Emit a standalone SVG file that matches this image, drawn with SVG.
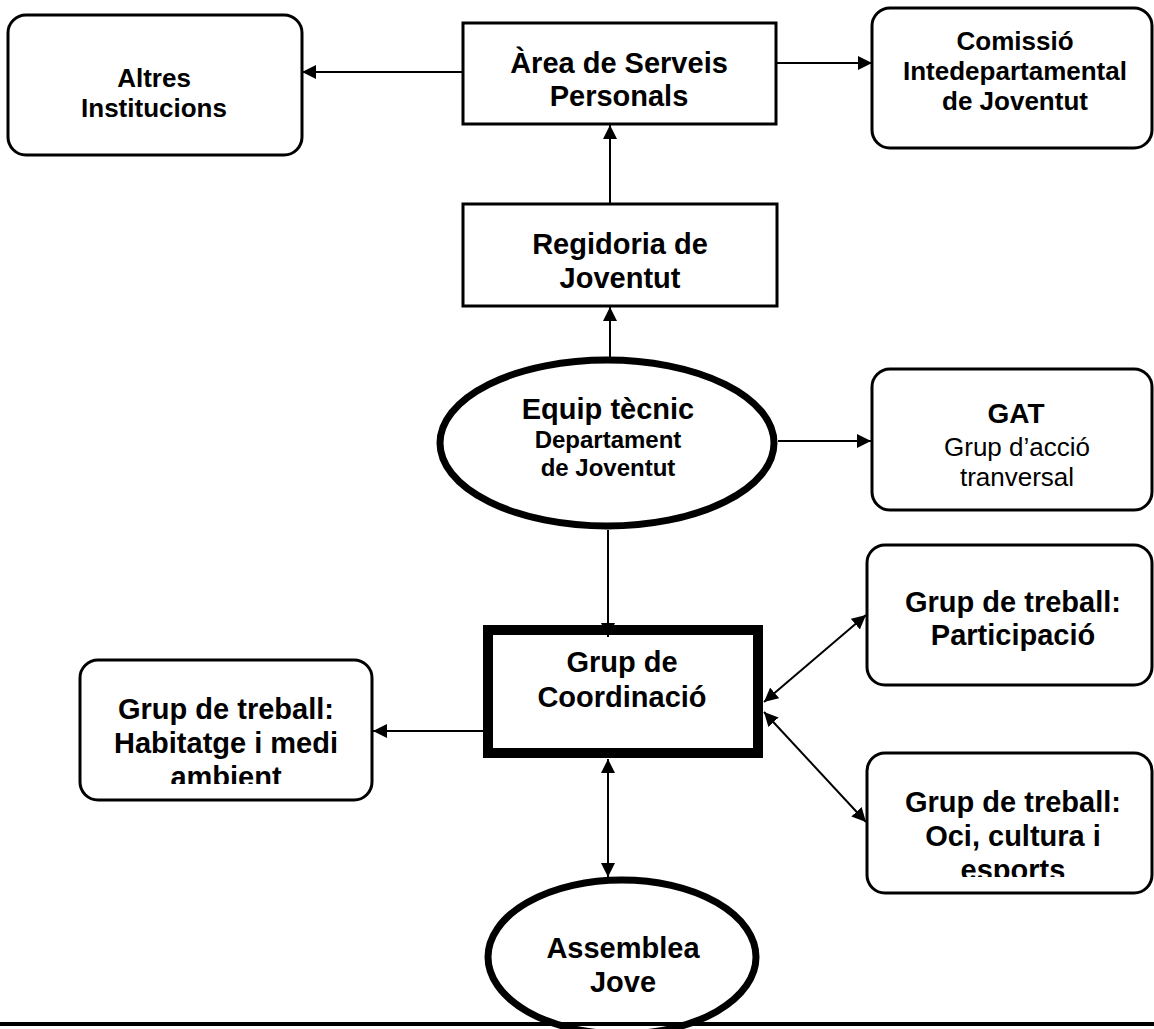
<svg xmlns="http://www.w3.org/2000/svg" width="1154" height="1029" viewBox="0 0 1154 1029">
  <defs>
    <style>
      .box { fill: #fff; stroke: #000; stroke-width: 3; }
      .rbox { fill: #fff; stroke: #000; stroke-width: 3; }
      .ell { fill: #fff; stroke: #000; stroke-width: 7; }
      .thick { fill: #fff; stroke: #000; stroke-width: 10; }
      .conn { fill: none; stroke: #000; stroke-width: 2; }
      .t { font-family: "Liberation Sans", Arial, sans-serif; font-weight: bold; font-size: 29px; fill: #000; text-anchor: middle; }
      .t26 { font-size: 26px; }
      .t24 { font-size: 24px; }
      .reg { font-weight: normal; font-size: 26px; }
    </style>
    <marker id="arr" viewBox="0 0 14 14" refX="14" refY="7" markerWidth="14" markerHeight="14" markerUnits="userSpaceOnUse" orient="auto-start-reverse">
      <path d="M0,0 L14,7 L0,14 z" fill="#000"/>
    </marker>
    <clipPath id="clipHab"><rect x="80" y="660" width="292" height="124"/></clipPath>
    <clipPath id="clipOci"><rect x="867" y="753" width="285" height="124"/></clipPath>
  </defs>
  <rect x="0" y="0" width="1154" height="1029" fill="#fff"/>

  <g id="altres">
    <rect class="rbox" x="8" y="15" width="294" height="140" rx="18" ry="18"/>
    <text class="t t26" x="154" y="87">Altres</text>
    <text class="t t26" x="154" y="117">Institucions</text>
  </g>

  <g id="area">
    <rect class="box" x="463" y="23" width="313" height="101"/>
    <text class="t" x="619" y="73">Àrea de Serveis</text>
    <text class="t" x="619" y="106">Personals</text>
  </g>

  <g id="comissio">
    <rect class="rbox" x="872" y="8" width="280" height="140" rx="18" ry="18"/>
    <text class="t t26" x="1015" y="50">Comissió</text>
    <text class="t t26" x="1015" y="80">Intedepartamental</text>
    <text class="t t26" x="1015" y="110">de Joventut</text>
  </g>

  <g id="regidoria">
    <rect class="box" x="463" y="204" width="314" height="102"/>
    <text class="t" x="620" y="254">Regidoria de</text>
    <text class="t" x="620" y="288">Joventut</text>
  </g>

  <g id="equip">
    <ellipse class="ell" cx="607" cy="443" rx="167" ry="83"/>
    <text class="t" x="608" y="419">Equip tècnic</text>
    <text class="t t24" x="608" y="448">Departament</text>
    <text class="t t24" x="608" y="476">de Joventut</text>
  </g>

  <g id="gat">
    <rect class="rbox" x="872" y="369" width="280" height="141" rx="18" ry="18"/>
    <text class="t" x="1016" y="423" style="font-size:28px">GAT</text>
    <text class="t reg" x="1017" y="456">Grup d’acció</text>
    <text class="t reg" x="1017" y="486">tranversal</text>
  </g>

  <g id="coordinacio">
    <rect class="thick" x="488" y="630" width="270" height="123"/>
    <text class="t" x="622" y="672">Grup de</text>
    <text class="t" x="622" y="707">Coordinació</text>
  </g>

  <g id="habitatge">
    <rect class="rbox" x="80" y="660" width="292" height="140" rx="18" ry="18"/>
    <g clip-path="url(#clipHab)">
      <text class="t" x="226" y="719">Grup de treball:</text>
      <text class="t" x="226" y="753">Habitatge i medi</text>
      <text class="t" x="226" y="787">ambient</text>
    </g>
  </g>

  <g id="participacio">
    <rect class="rbox" x="867" y="545" width="285" height="140" rx="18" ry="18"/>
    <text class="t" x="1013" y="612">Grup de treball:</text>
    <text class="t" x="1013" y="645">Participació</text>
  </g>

  <g id="oci">
    <rect class="rbox" x="867" y="753" width="285" height="140" rx="18" ry="18"/>
    <g clip-path="url(#clipOci)">
      <text class="t" x="1013" y="812">Grup de treball:</text>
      <text class="t" x="1013" y="846">Oci, cultura i</text>
      <text class="t" x="1013" y="880">esports</text>
    </g>
  </g>

  <g id="assemblea">
    <ellipse class="ell" cx="622" cy="957" rx="134" ry="77"/>
    <text class="t" x="623" y="958">Assemblea</text>
    <text class="t" x="623" y="992">Jove</text>
  </g>

  <g id="connectors">
    <line class="conn" x1="463" y1="72" x2="302" y2="72" marker-end="url(#arr)"/>
    <line class="conn" x1="776" y1="63" x2="872" y2="63" marker-end="url(#arr)"/>
    <line class="conn" x1="610" y1="204" x2="610" y2="125" marker-end="url(#arr)"/>
    <line class="conn" x1="610" y1="357" x2="610" y2="307" marker-end="url(#arr)"/>
    <line class="conn" x1="778" y1="441" x2="871" y2="441" marker-end="url(#arr)"/>
    <line class="conn" x1="608" y1="530" x2="608" y2="637" marker-end="url(#arr)"/>
    <line class="conn" x1="483" y1="731" x2="373" y2="731" marker-end="url(#arr)"/>
    <line class="conn" x1="764" y1="702" x2="866" y2="615" marker-start="url(#arr)" marker-end="url(#arr)"/>
    <line class="conn" x1="764" y1="712" x2="866" y2="822" marker-start="url(#arr)" marker-end="url(#arr)"/>
    <line class="conn" x1="608" y1="759" x2="608" y2="877" marker-start="url(#arr)" marker-end="url(#arr)"/>
  </g>

  <line id="baseline" x1="0" y1="1024" x2="1154" y2="1024" stroke="#000" stroke-width="4"/>
</svg>
